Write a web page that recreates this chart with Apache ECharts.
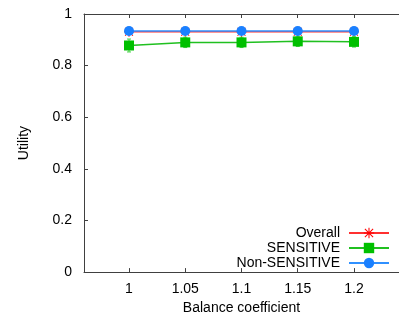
<!DOCTYPE html>
<html><head><meta charset="utf-8">
<script src="https://cdn.jsdelivr.net/npm/echarts@6/dist/echarts.min.js"></script>
<style>html,body{margin:0;padding:0;background:#fff}#c{width:399px;height:320px}</style>
</head><body><div id="c"></div>
<script>
var balance = [1, 1.05, 1.1, 1.15, 1.2];
var overall = [0.931, 0.931, 0.931, 0.931, 0.931];
var sensitive = [0.878, 0.890, 0.890, 0.894, 0.892];
var sensitiveErr = [0.025, 0.02, 0.02, 0.02, 0.02];
var nonSensitive = [0.934, 0.934, 0.934, 0.934, 0.934];
var xTicks = [1, 1.05, 1.1, 1.15, 1.2];
var yTicks = [0, 0.2, 0.4, 0.6, 0.8, 1];

var font = 'Liberation Sans, Arial, sans-serif';
var fs = 14;
var star = 'path://M0,4.5h10v1h-10z M4.5,0h1v10h-1z M0.7,1.4L1.4,0.7L9.3,8.6L8.6,9.3z M8.6,0.7L9.3,1.4L1.4,9.3L0.7,8.6z';
function pairs(ys){ return balance.map(function(x,i){ return [x, ys[i]]; }); }

var chart = echarts.init(document.getElementById('c'), null, {renderer:'canvas'});
var axisLine = {show:true, lineStyle:{color:'#404040', width:1}};
chart.setOption({
  animation:false,
  textStyle:{fontFamily:font},
  grid:{left:84, top:14, width:322, height:259},
  xAxis:[{
    type:'value', min:0.96, max:1.24, position:'bottom',
    axisLine:axisLine,
    axisTick:{show:true, inside:true, length:4, customValues:xTicks, lineStyle:{color:'#404040'}},
    axisLabel:{show:true, customValues:xTicks, color:'#000', fontSize:fs, fontFamily:font, margin:10},
    splitLine:{show:false},
    name:'Balance coefficient', nameLocation:'middle', nameGap:25,
    nameTextStyle:{color:'#000', fontSize:fs, fontFamily:font}
  },{
    type:'value', min:0.96, max:1.24, position:'top',
    axisLine:axisLine,
    axisTick:{show:true, inside:true, length:4, customValues:xTicks, lineStyle:{color:'#404040'}},
    axisLabel:{show:false},
    splitLine:{show:false}
  }],
  yAxis:{
    type:'value', min:0, max:1, interval:0.2,
    axisLine:axisLine,
    axisTick:{show:true, inside:true, length:4, customValues:yTicks, lineStyle:{color:'#404040'}},
    axisLabel:{color:'#000', fontSize:fs, fontFamily:font, margin:12, customValues:yTicks,
      formatter:function(v){ return String(Math.round(v*10)/10); }},
    splitLine:{show:false},
    name:'Utility', nameLocation:'middle', nameGap:53, nameRotate:90,
    nameTextStyle:{color:'#000', fontSize:fs, fontFamily:font}
  },
  legend:{
    orient:'vertical', right:9, top:226, align:'right', padding:0,
    itemWidth:40, itemHeight:13, itemGap:1,
    textStyle:{color:'#000', fontSize:fs, fontFamily:font, padding:[0,4,0,0]},
    data:['Overall','SENSITIVE','Non-SENSITIVE']
  },
  series:[{
    name:'Overall', type:'line', data:pairs(overall),
    symbol:star, symbolSize:10,
    lineStyle:{color:'#ff3030', width:1.5}, itemStyle:{color:'#ff0000'}, z:2
  },{
    name:'SENSITIVE-err', type:'custom', z:3,
    data:balance.map(function(x,i){ return [x, sensitive[i]-sensitiveErr[i], sensitive[i]+sensitiveErr[i]]; }),
    renderItem:function(params, api){
      var lo = api.coord([api.value(0), api.value(1)]);
      var hi = api.coord([api.value(0), api.value(2)]);
      var st = {stroke:'#40d040', lineWidth:1};
      return {type:'group', children:[
        {type:'line', shape:{x1:lo[0], y1:lo[1], x2:hi[0], y2:hi[1]}, style:st},
        {type:'line', shape:{x1:lo[0]-2, y1:lo[1], x2:lo[0]+2, y2:lo[1]}, style:st},
        {type:'line', shape:{x1:hi[0]-2, y1:hi[1], x2:hi[0]+2, y2:hi[1]}, style:st}
      ]};
    }
  },{
    name:'SENSITIVE', type:'line', data:pairs(sensitive),
    symbol:'rect', symbolSize:10,
    lineStyle:{color:'#20c020', width:1.5}, itemStyle:{color:'#00c000'}, z:4
  },{
    name:'Non-SENSITIVE', type:'line', data:pairs(nonSensitive),
    symbol:'circle', symbolSize:10,
    lineStyle:{color:'#3090ff', width:1.5}, itemStyle:{color:'#1a80ff'}, z:5
  }]
});
</script></body></html>
